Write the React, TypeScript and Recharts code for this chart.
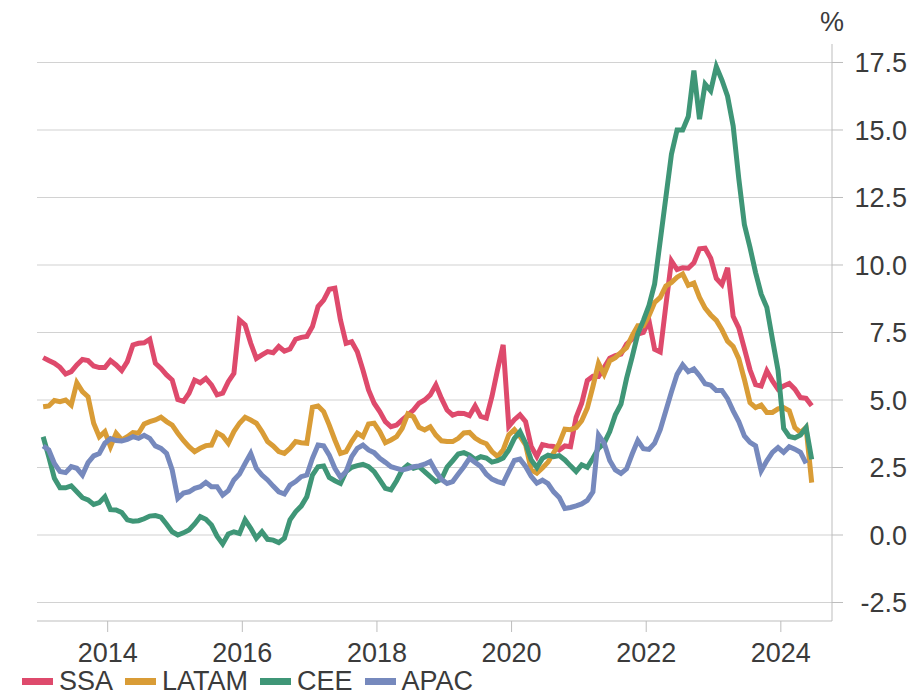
import React from 'react';
import { LineChart, Line, XAxis, YAxis, CartesianGrid, Legend } from 'recharts';

// Monthly observations, Jan 2013 .. Jun 2024
const startYear = 2013;

const ssa = [
  6.57, 6.46, 6.36, 6.21, 5.96, 6.05, 6.3, 6.5, 6.46, 6.26, 6.2, 6.2,
  6.46, 6.3, 6.09, 6.42, 7.04, 7.1, 7.12, 7.25, 6.36, 6.17, 5.93, 5.74,
  5.02, 4.95, 5.25, 5.74, 5.64, 5.8, 5.56, 5.19, 5.25, 5.68, 5.99, 7.96,
  7.78, 7.1, 6.54, 6.67, 6.79, 6.75, 6.98, 6.81, 6.89, 7.25, 7.32, 7.35,
  7.72, 8.46, 8.7, 9.1, 9.14, 7.96, 7.1, 7.16, 6.79, 6.11, 5.37, 4.88,
  4.57, 4.2, 4.01, 4.07, 4.26, 4.44, 4.63, 4.88, 5.0, 5.19, 5.56, 5.06,
  4.63, 4.44, 4.51, 4.5, 4.42, 4.78, 4.39, 4.33, 5.13, 6.12, 7.04, 4.02,
  4.27, 4.45, 4.2, 3.28, 2.91, 3.35, 3.3, 3.28, 3.15, 3.3, 3.27, 4.35,
  4.88, 5.72, 5.88, 5.87, 6.2, 6.55, 6.64, 6.7, 7.07, 7.25, 7.44, 7.5,
  7.93, 6.88, 6.78, 8.5, 10.15, 9.83, 9.9, 9.88, 10.08, 10.6, 10.62, 10.25,
  9.5, 9.28, 9.9, 8.1, 7.67, 6.9, 6.12, 5.57, 5.52, 6.08, 5.71, 5.4,
  5.52, 5.61, 5.4, 5.09, 5.06, 4.79,
];

const latam = [
  4.75, 4.78, 4.98, 4.94, 5.0, 4.81, 5.64, 5.31, 5.12, 4.14, 3.64, 3.83,
  3.27, 3.77, 3.52, 3.64, 3.79, 3.77, 4.11, 4.2, 4.26, 4.36, 4.2, 4.07,
  3.77, 3.5, 3.27, 3.09, 3.21, 3.31, 3.33, 3.79, 3.67, 3.4, 3.83, 4.14,
  4.36, 4.26, 4.14, 3.83, 3.46, 3.3, 3.09, 3.02, 3.21, 3.46, 3.42, 3.4,
  4.73, 4.78, 4.57, 4.07, 3.52, 3.02, 3.09, 3.46, 3.77, 3.64, 4.11, 4.14,
  3.83, 3.42, 3.52, 3.64, 3.95, 4.48, 4.38, 3.99, 3.89, 4.01, 3.7, 3.49,
  3.46, 3.46, 3.58, 3.78, 3.8, 3.59, 3.46, 3.38, 3.09, 2.91, 3.15, 3.71,
  3.9, 3.65, 3.34, 2.41, 2.29, 2.48, 2.7, 3.05, 3.4, 3.92, 3.9, 3.98,
  4.23, 4.7, 5.5, 6.36, 5.95, 6.45, 6.57, 6.76, 6.94, 7.38, 7.75, 7.75,
  8.12, 8.61, 8.8, 9.22, 9.35, 9.55, 9.67, 9.25, 9.33, 8.8, 8.4, 8.15,
  7.95, 7.6, 7.18, 6.98, 6.53, 5.76, 4.9, 4.72, 4.81, 4.54, 4.54, 4.67,
  4.72, 4.6, 3.98, 3.8, 3.98, 1.94,
];

const cee = [
  3.64, 2.9, 2.1, 1.75, 1.75, 1.82, 1.6, 1.38, 1.3, 1.13, 1.2, 1.42,
  0.94, 0.93, 0.83, 0.56, 0.51, 0.53, 0.6, 0.7, 0.72, 0.66, 0.4, 0.12,
  0.0, 0.08, 0.19, 0.41, 0.68, 0.58, 0.37, -0.04, -0.33, 0.04, 0.12, 0.06,
  0.56, 0.25, -0.12, 0.12, -0.16, -0.19, -0.28, -0.12, 0.56, 0.86, 1.07, 1.42,
  2.22, 2.53, 2.56, 2.13, 2.01, 1.91, 2.35, 2.51, 2.57, 2.62, 2.53, 2.35,
  2.04, 1.73, 1.67, 2.01, 2.41, 2.59, 2.47, 2.53, 2.35, 2.16, 1.98, 2.06,
  2.51, 2.75, 3.0, 3.05, 2.96, 2.8, 2.9, 2.85, 2.7, 2.75, 2.85, 3.15,
  3.58, 3.83, 3.4, 2.78, 2.5, 2.84, 2.96, 2.9, 2.94, 2.78, 2.56, 2.35,
  2.6, 2.51, 2.84, 3.21, 3.4, 3.83, 4.45, 4.85, 5.8, 6.6, 7.45, 7.95,
  8.5, 9.3, 10.9, 12.5, 14.1, 15.0, 15.0, 15.5, 17.2, 15.4, 16.7, 16.45,
  17.35, 16.85, 16.25, 15.15, 13.2, 11.5, 10.65, 9.72, 8.92, 8.43, 7.25, 6.1,
  3.95, 3.65, 3.6, 3.7, 3.98, 2.8,
];

const apac = [
  3.3, 3.15, 2.65, 2.35, 2.31, 2.53, 2.47, 2.22, 2.68, 2.93, 3.02, 3.4,
  3.57, 3.5, 3.48, 3.54, 3.64, 3.58, 3.69, 3.58, 3.3, 3.21, 3.02, 2.41,
  1.36, 1.55, 1.6, 1.73, 1.79, 1.95, 1.79, 1.79, 1.48, 1.64, 2.04, 2.26,
  2.65, 3.02, 2.47, 2.22, 2.04, 1.81, 1.6, 1.52, 1.85, 1.98, 2.16, 2.22,
  2.84, 3.33, 3.3, 2.96, 2.47, 2.14, 2.35, 2.9, 3.21, 3.33, 3.15, 3.05,
  2.84, 2.69, 2.53, 2.47, 2.41, 2.46, 2.53, 2.56, 2.62, 2.72, 2.35, 2.06,
  1.91, 1.98, 2.26, 2.53, 2.84, 2.69, 2.54, 2.25, 2.07, 1.98, 1.92, 2.35,
  2.76, 2.81, 2.54, 2.17, 1.92, 2.03, 1.9, 1.6, 1.39, 0.98, 1.02, 1.08,
  1.15, 1.28, 1.6, 3.7, 3.4, 2.76, 2.41, 2.28, 2.45, 3.0, 3.5, 3.2,
  3.17, 3.4, 3.9, 4.6, 5.3, 5.95, 6.3, 6.05, 6.15, 5.9, 5.6, 5.55,
  5.35, 5.35, 5.05, 4.6, 4.2, 3.67, 3.43, 3.3, 2.38, 2.75, 3.06, 3.24,
  3.06, 3.27, 3.18, 3.06, 2.65, null,
];

const seriesNames = ['SSA', 'LATAM', 'CEE', 'APAC'];
const seriesColors = ['#de4a6c', '#d99c36', '#3f9677', '#7689bd'];
const seriesValues = [ssa, latam, cee, apac];

const xTicks = [2014, 2016, 2018, 2020, 2022, 2024];
const yTicks = [-2.5, 0, 2.5, 5, 7.5, 10, 12.5, 15, 17.5];

const data = ssa.map((_, i) => {
  const row: Record<string, number | null> = { t: startYear + (i + 0.5) / 12 };
  seriesNames.forEach((name, k) => {
    row[name] = seriesValues[k][i];
  });
  return row;
});

const TEXT = '#3b3b3b';
const FONT = '"Liberation Sans", Arial, Helvetica, sans-serif';

const YTick = (props: any) => {
  const { x, y, payload } = props;
  return (
    <text x={x + 60} y={y} dy="0.355em" textAnchor="end" fill={TEXT} fontSize={27} fontFamily={FONT}>
      {Number(payload.value).toFixed(1)}
    </text>
  );
};

const renderLegend = () => (
  <div style={{ display: 'flex', alignItems: 'center', fontSize: 27, color: TEXT, lineHeight: '30px', fontFamily: FONT, whiteSpace: 'nowrap' }}>
    {seriesNames.map((name, k) => (
      <div key={name} style={{ display: 'flex', alignItems: 'center', marginRight: 12 }}>
        <span style={{ display: 'inline-block', width: 31, height: 7, background: seriesColors[k], marginRight: 6 }} />
        <span>{name}</span>
      </div>
    ))}
  </div>
);

export default function App() {
  return (
    <div style={{ position: 'absolute', left: 0, top: 0, width: 920, height: 696, fontFamily: FONT, background: '#fff' }}>
      <LineChart width={920} height={696} data={data} margin={{ top: 44, right: 8, left: 37, bottom: 15 }}>
        <CartesianGrid horizontal vertical={false} syncWithTicks stroke="#d2d2d2" strokeWidth={1.2} />
        <XAxis
          dataKey="t"
          type="number"
          domain={[2012.95, 2024.76]}
          ticks={xTicks}
          allowDataOverflow
          height={60}
          tickSize={11}
          tickMargin={11}
          stroke="#bdbdbd"
          tick={{ fill: TEXT, fontSize: 27, fontFamily: FONT }}
          tickFormatter={(v: number) => String(v)}
        />
        <YAxis
          orientation="right"
          domain={[-3.185, 18.185]}
          ticks={yTicks}
          allowDataOverflow
          width={80}
          tickSize={11}
          tickMargin={4}
          stroke="#bdbdbd"
          tick={<YTick />}
        />
        {seriesNames.map((name, k) => (
          <Line
            key={name}
            type="linear"
            dataKey={name}
            name={name}
            stroke={seriesColors[k]}
            strokeWidth={5}
            dot={false}
            activeDot={false}
            isAnimationActive={false}
          />
        ))}
        <Legend
          layout="horizontal"
          verticalAlign="middle"
          align="center"
          content={renderLegend}
          wrapperStyle={{ position: 'absolute', left: 22, top: 666, width: 700, height: 30 }}
        />
      </LineChart>
      <span style={{ position: 'absolute', left: 820, top: 9, fontSize: 27, lineHeight: '27px', color: TEXT, fontFamily: FONT }}>%</span>
    </div>
  );
}
